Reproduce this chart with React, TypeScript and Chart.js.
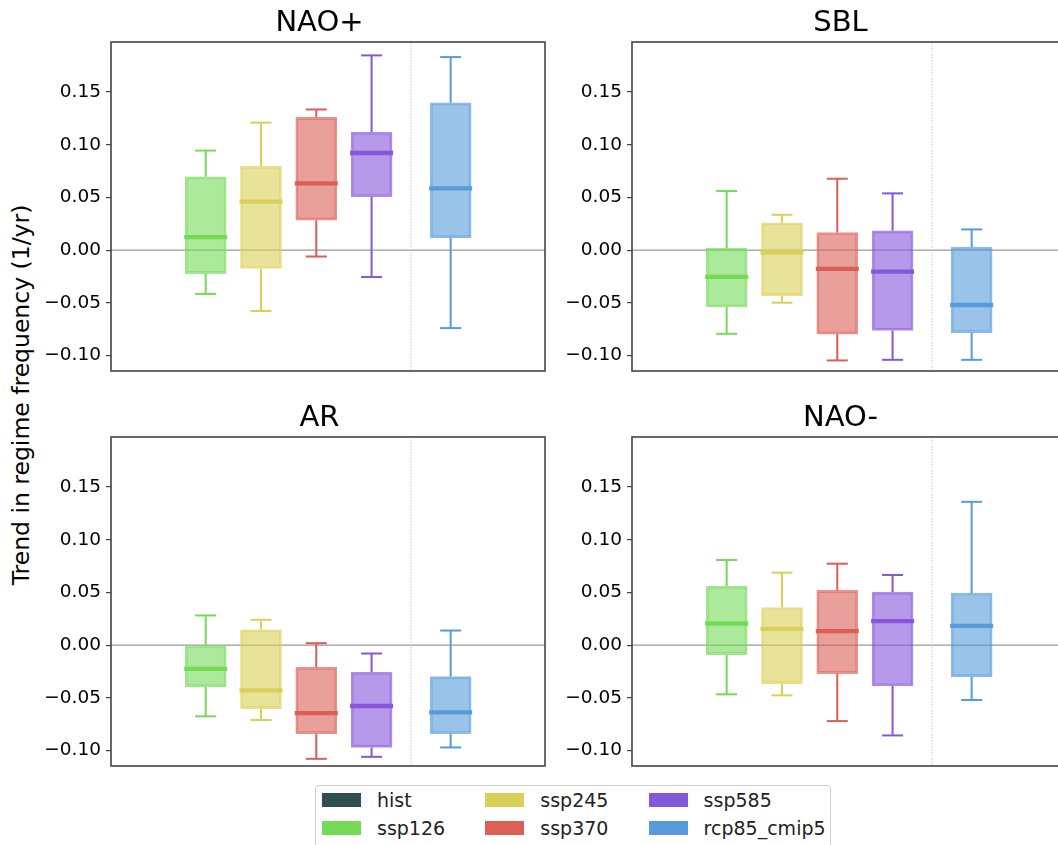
import React, { useEffect, useRef } from "react";
import { Chart, registerables } from "chart.js";

Chart.register(...registerables);

// ---------- data ----------
const LEGEND_SCENARIOS = ["hist", "ssp126", "ssp245", "ssp370", "ssp585", "rcp85_cmip5"];
const BOX_SCENARIOS = ["ssp126", "ssp245", "ssp370", "ssp585", "rcp85_cmip5"];
const BOX_POSITIONS = [1, 2, 3, 4, 5.43];
const SEPARATOR_X = 4.713;
const X_MIN = -0.712;
const X_MAX = 7.136;
const Y_MIN = -0.1146;
const Y_MAX = 0.1975;
const Y_TICK_STEP = 0.05;

const REGIME_TITLES = ["NAO+", "SBL", "AR", "NAO-"];
const Y_LABEL = "Trend in regime frequency (1/yr)";

// NAO+
const naoPlusWhiskerLow = [-0.0415, -0.0577, -0.006, -0.0254, -0.0739];
const naoPlusQ1 = [-0.0222, -0.0174, 0.0285, 0.0507, 0.0117];
const naoPlusMedian = [0.0124, 0.046, 0.0634, 0.0922, 0.0586];
const naoPlusQ3 = [0.0697, 0.0796, 0.126, 0.1119, 0.1398];
const naoPlusWhiskerHigh = [0.0945, 0.121, 0.1335, 0.1848, 0.1832];

// SBL
const sblWhiskerLow = [-0.0793, -0.0498, -0.1046, -0.104, -0.104];
const sblQ1 = [-0.0539, -0.0431, -0.0796, -0.0761, -0.0783];
const sblMedian = [-0.0254, -0.0022, -0.0178, -0.0203, -0.052];
const sblQ3 = [0.0019, 0.026, 0.0168, 0.0184, 0.0029];
const sblWhiskerHigh = [0.0561, 0.0336, 0.0678, 0.0539, 0.0197];

// AR
const arWhiskerLow = [-0.0675, -0.071, -0.1078, -0.1059, -0.097];
const arQ1 = [-0.0396, -0.0602, -0.084, -0.097, -0.084];
const arMedian = [-0.0225, -0.0428, -0.0644, -0.0577, -0.0637];
const arQ3 = [0.0, 0.0146, -0.0209, -0.0257, -0.0298];
const arWhiskerHigh = [0.0282, 0.0241, 0.0019, -0.0079, 0.0139];

// NAO-
const naoMinusWhiskerLow = [-0.0466, -0.0476, -0.072, -0.0856, -0.052];
const naoMinusQ1 = [-0.0089, -0.0365, -0.0269, -0.0387, -0.0301];
const naoMinusMedian = [0.0206, 0.0155, 0.0133, 0.0228, 0.0184];
const naoMinusQ3 = [0.0561, 0.0358, 0.052, 0.0504, 0.0495];
const naoMinusWhiskerHigh = [0.0808, 0.0688, 0.0773, 0.0666, 0.136];

// ---------- styles ----------
const SCENARIO_COLORS: Record<string, string> = {
  hist: "#2f4f4f",
  ssp126: "#75db57",
  ssp245: "#dbd057",
  ssp370: "#db5f57",
  ssp585: "#8557db",
  rcp85_cmip5: "#579bdb",
};
const FONT = "'DejaVu Sans', sans-serif";
const TITLE_SIZE = 29;
const TITLE_BASELINE = 31.4;
const TITLE_X_SHIFT = -8.5;

function rgba(hex: string, a: number) {
  const n = parseInt(hex.slice(1), 16);
  return `rgba(${(n >> 16) & 255},${(n >> 8) & 255},${n & 255},${a})`;
}

function fmtTick(v: number) {
  const s = Math.abs(v) < 1e-9 ? "0.00" : Number(v).toFixed(2);
  return s.replace("-", "\u2212");
}

const panelPlugin = {
  id: "panelDecor",
  beforeDatasetsDraw(chart: any) {
    const { ctx, chartArea, scales } = chart;
    const y0 = scales.y.getPixelForValue(0);
    ctx.save();
    ctx.strokeStyle = "#9a9a9a";
    ctx.lineWidth = 1.2;
    ctx.beginPath();
    ctx.moveTo(chartArea.left, y0);
    ctx.lineTo(chartArea.right, y0);
    ctx.stroke();
    const xs = scales.x.getPixelForValue(SEPARATOR_X);
    ctx.strokeStyle = "#c4c4c4";
    ctx.lineWidth = 1;
    ctx.setLineDash([1.5, 1.5]);
    ctx.beginPath();
    ctx.moveTo(xs, chartArea.top);
    ctx.lineTo(xs, chartArea.bottom);
    ctx.stroke();
    ctx.restore();
  },
  afterDatasetsDraw(chart: any) {
    const { ctx, chartArea } = chart;
    ctx.save();
    ctx.strokeStyle = "#444";
    ctx.lineWidth = 1.6;
    ctx.strokeRect(chartArea.left, chartArea.top, chartArea.right - chartArea.left, chartArea.bottom - chartArea.top);
    ctx.restore();
  },
  afterDraw(chart: any, _args: any, opts: any) {
    const { ctx, chartArea } = chart;
    ctx.save();
    ctx.fillStyle = "#000";
    ctx.font = `${TITLE_SIZE}px ${FONT}`;
    ctx.textAlign = "center";
    ctx.textBaseline = "alphabetic";
    ctx.fillText(opts.text, (chartArea.left + chartArea.right) / 2 + TITLE_X_SHIFT, TITLE_BASELINE);
    ctx.restore();
  },
};

type PanelProps = {
  title: string;
  lo: number[];
  q1: number[];
  med: number[];
  q3: number[];
  hi: number[];
  left: number;
  top: number;
};

const CANVAS_W = 520;
const CANVAS_H = 391;

function Panel({ title, lo, q1, med, q3, hi, left, top }: PanelProps) {
  const ref = useRef<HTMLCanvasElement | null>(null);
  useEffect(() => {
    if (!ref.current) return;
    const colors = BOX_SCENARIOS.map((s) => SCENARIO_COLORS[s]);
    const stemDatasets = BOX_SCENARIOS.map((s, i) => ({
      type: "line" as const,
      data: [
        { x: BOX_POSITIONS[i], y: lo[i] },
        { x: BOX_POSITIONS[i], y: q1[i] },
        { x: BOX_POSITIONS[i], y: null },
        { x: BOX_POSITIONS[i], y: q3[i] },
        { x: BOX_POSITIONS[i], y: hi[i] },
      ],
      borderColor: colors[i],
      borderWidth: 2,
      pointRadius: 0,
      spanGaps: false,
      fill: false,
    }));
    const chart = new Chart(ref.current, {
      type: "bar",
      data: {
        datasets: [
          {
            type: "scatter" as const,
            data: med.map((m, i) => ({ x: BOX_POSITIONS[i], y: m })),
            pointStyle: "line",
            pointRadius: 21.5,
            pointBorderWidth: 4.3,
            pointBorderColor: colors,
            pointBackgroundColor: colors,
          },
          {
            type: "scatter" as const,
            data: [
              ...lo.map((v, i) => ({ x: BOX_POSITIONS[i], y: v })),
              ...hi.map((v, i) => ({ x: BOX_POSITIONS[i], y: v })),
            ],
            pointStyle: "line",
            pointRadius: 10.5,
            pointBorderWidth: 2,
            pointBorderColor: [...colors, ...colors],
            pointBackgroundColor: [...colors, ...colors],
          },
          ...stemDatasets,
          {
            type: "bar" as const,
            data: q1.map((v, i) => ({ x: BOX_POSITIONS[i], y: [v, q3[i]] })),
            backgroundColor: colors.map((c) => rgba(c, 0.6)),
            borderColor: colors.map((c) => rgba(c, 0.68)),
            borderWidth: 2,
            borderSkipped: false,
            barThickness: 41,
          },
        ] as any,
      },
      options: {
        animation: false,
        responsive: false,
        events: [],
        layout: { autoPadding: false, padding: { left: 0, right: 15, top: 42, bottom: 20 } },
        plugins: {
          legend: { display: false },
          tooltip: { enabled: false },
          title: { display: false },
          panelDecor: { text: title },
        },
        scales: {
          x: {
            type: "linear",
            min: X_MIN,
            max: X_MAX,
            offset: false,
            display: false,
            grid: { offset: false },
          },
          y: {
            type: "linear",
            min: Y_MIN,
            max: Y_MAX,
            position: "left",
            stacked: false,
            ticks: {
              stepSize: Y_TICK_STEP,
              includeBounds: false,
              padding: 5,
              color: "#000",
              font: { family: FONT, size: 18.5 },
              callback: (v: any) => fmtTick(Number(v)),
            },
            grid: {
              drawOnChartArea: false,
              drawTicks: true,
              tickLength: 5,
              color: "#444",
              lineWidth: 1.2,
            },
            border: { display: false },
            afterFit: (s: any) => {
              s.width = 71;
            },
          },
        },
      } as any,
      plugins: [panelPlugin],
    });
    return () => chart.destroy();
  }, [title, lo, q1, med, q3, hi]);
  return (
    <canvas
      ref={ref}
      width={CANVAS_W}
      height={CANVAS_H}
      style={{ position: "absolute", left, top, width: CANVAS_W, height: CANVAS_H }}
    />
  );
}

export default function App() {
  const legendCols = [322, 485.3, 648.6];
  const legendRows = [800, 828];
  return (
    <div
      style={{
        position: "absolute",
        left: 0,
        top: 0,
        width: 1058,
        height: 845,
        overflow: "hidden",
        background: "#fff",
        fontFamily: FONT,
      }}
    >
      <Panel title={REGIME_TITLES[0]} lo={naoPlusWhiskerLow} q1={naoPlusQ1} med={naoPlusMedian} q3={naoPlusQ3} hi={naoPlusWhiskerHigh} left={40} top={0} />
      <Panel title={REGIME_TITLES[1]} lo={sblWhiskerLow} q1={sblQ1} med={sblMedian} q3={sblQ3} hi={sblWhiskerHigh} left={561} top={0} />
      <Panel title={REGIME_TITLES[2]} lo={arWhiskerLow} q1={arQ1} med={arMedian} q3={arQ3} hi={arWhiskerHigh} left={40} top={395} />
      <Panel title={REGIME_TITLES[3]} lo={naoMinusWhiskerLow} q1={naoMinusQ1} med={naoMinusMedian} q3={naoMinusQ3} hi={naoMinusWhiskerHigh} left={561} top={395} />

      <div
        style={{
          position: "absolute",
          left: 22,
          top: 395,
          transform: "translate(-50%, -50%) rotate(-90deg)",
          whiteSpace: "nowrap",
          fontSize: 23.5,
          lineHeight: 1,
          color: "#000",
        }}
      >
        {Y_LABEL}
      </div>

      <div
        style={{
          position: "absolute",
          left: 315,
          top: 785,
          width: 516,
          height: 80,
          border: "1px solid #d0d0d0",
          borderRadius: 4,
          boxSizing: "border-box",
          background: "#fff",
        }}
      />
      {LEGEND_SCENARIOS.map((s, i) => {
        const col = Math.floor(i / 2);
        const row = i % 2;
        const x = legendCols[col];
        const yc = legendRows[row];
        return (
          <React.Fragment key={s}>
            <div
              style={{
                position: "absolute",
                left: x,
                top: yc - 7,
                width: 39,
                height: 14,
                background: SCENARIO_COLORS[s],
              }}
            />
            <div
              style={{
                position: "absolute",
                left: x + 55,
                top: yc - 12,
                height: 24,
                lineHeight: "24px",
                fontSize: 19,
                color: "#222",
                whiteSpace: "nowrap",
              }}
            >
              {s}
            </div>
          </React.Fragment>
        );
      })}
    </div>
  );
}
